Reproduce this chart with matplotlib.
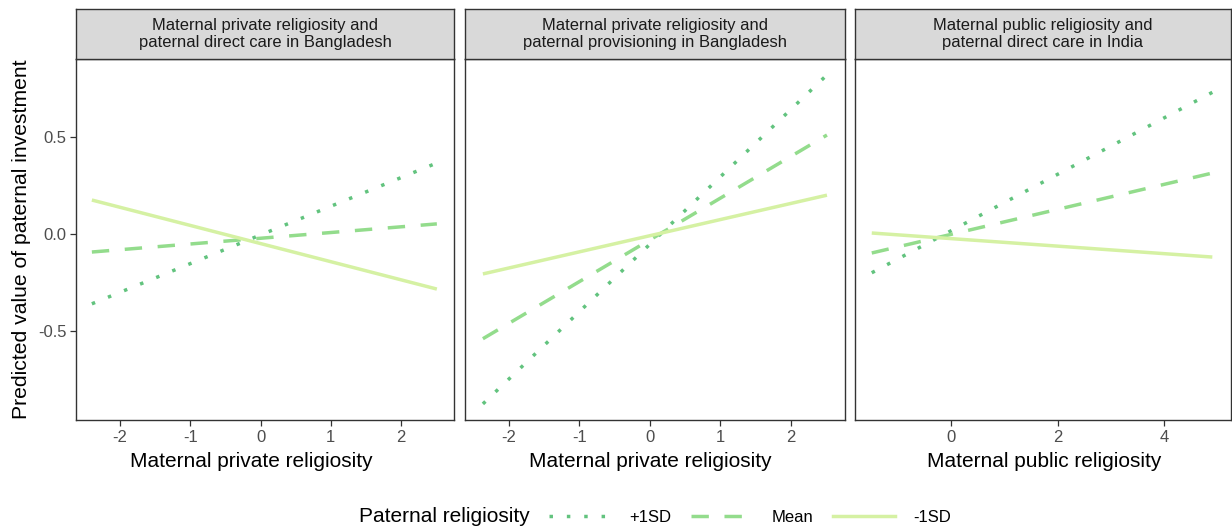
import matplotlib.pyplot as plt
from matplotlib.lines import Line2D
from matplotlib.offsetbox import HPacker

plt.rcParams['font.family'] = ['Liberation Sans', 'DejaVu Sans']

# ================= DATA =================
panel_titles = [
    "Maternal private religiosity and\npaternal direct care in Bangladesh",
    "Maternal private religiosity and\npaternal provisioning in Bangladesh",
    "Maternal public religiosity and\npaternal direct care in India",
]
x_labels = ["Maternal private religiosity", "Maternal private religiosity",
            "Maternal public religiosity"]

# line end points (x range per panel)
x_ranges = [[-2.40, 2.51], [-2.37, 2.51], [-1.48, 4.90]]

plus_sd = [[-0.36, 0.366], [-0.876, 0.82], [-0.20, 0.73]]
mean_sd = [[-0.093, 0.052], [-0.54, 0.51], [-0.098, 0.314]]
minus_sd = [[0.175, -0.284], [-0.206, 0.20], [0.005, -0.119]]

x_limits = [(-2.626, 2.754), (-2.624, 2.766), (-1.794, 5.25)]
x_ticks = [[-2, -1, 0, 1, 2], [-2, -1, 0, 1, 2], [0, 2, 4]]
y_ticks = [-0.5, 0.0, 0.5]
y_limits = (-0.959, 0.902)

series_labels = ["+1SD", "Mean", "-1SD"]
colors = ["#62c37e", "#93dc8c", "#d5f1a3"]
styles = [(0, (1, 4)), (0, (5, 4.5)), "-"]

# ================= PLOT =================
W, H = 1232, 529
fig = plt.figure(figsize=(W / 100, H / 100), dpi=100)

panel_px = [(76, 454), (465, 845), (855, 1231)]
label_centers_px = [251, 650, 1044]
top_px, bottom_px, strip_top_px = 59, 420, 9
edge = "#333333"
lw = 2.5

for i, (x0, x1) in enumerate(panel_px):
    ax = fig.add_axes([x0 / W, 1 - bottom_px / H, (x1 - x0) / W,
                       (bottom_px - top_px) / H])
    series = [plus_sd[i], mean_sd[i], minus_sd[i]]
    for vals, c, ls in zip(series, colors, styles):
        ax.plot(x_ranges[i], vals, color=c, linestyle=ls, lw=lw,
                dash_capstyle="butt", solid_capstyle="butt")
    ax.set_xlim(*x_limits[i])
    ax.set_ylim(*y_limits)
    ax.set_xticks(x_ticks[i])
    ax.set_xticklabels([f"{t:g}" for t in x_ticks[i]])
    ax.set_yticks(y_ticks)
    ax.tick_params(colors=edge, labelcolor="#4d4d4d", labelsize=12,
                   length=4, width=0.9, pad=3)
    if i == 0:
        ax.set_yticklabels(["-0.5", "0.0", "0.5"])
        ax.set_ylabel("Predicted value of paternal investment", fontsize=15.2,
                      labelpad=5)
    else:
        ax.tick_params(axis="y", left=False, labelleft=False)
    for s in ax.spines.values():
        s.set_color(edge)
        s.set_linewidth(1.0)
    ax.set_xlabel(x_labels[i], fontsize=15)
    ax.xaxis.set_label_coords((label_centers_px[i] - x0) / (x1 - x0), -0.09)

    # facet strip
    sax = fig.add_axes([x0 / W, 1 - top_px / H, (x1 - x0) / W,
                        (top_px - strip_top_px) / H])
    sax.set_facecolor("#d9d9d9")
    sax.set_xticks([])
    sax.set_yticks([])
    for s in sax.spines.values():
        s.set_color(edge)
        s.set_linewidth(1.0)
    sax.text(0.5, 0.5, panel_titles[i], ha="center", va="center",
             fontsize=11.9, color="#1a1a1a", linespacing=1.1,
             transform=sax.transAxes)

# ================= LEGEND =================
handles = [Line2D([], [], color=c, linestyle=ls, lw=lw, dash_capstyle="butt")
           for c, ls in zip(colors, styles)]
leg = fig.legend(handles, series_labels, loc="center",
                 bbox_to_anchor=(655 / W, 1 - 517 / H), ncol=3, frameon=False,
                 fontsize=12, handlelength=3.7, columnspacing=1.2,
                 handletextpad=1.1, title="Paternal religiosity",
                 title_fontsize=15)
# put title on the left of entries
title_box = leg._legend_title_box
body = leg._legend_handle_box
leg._legend_box._children = [HPacker(pad=0, sep=14, align="center",
                                     children=[title_box, body])]

fig.savefig("out.png", dpi=100)
